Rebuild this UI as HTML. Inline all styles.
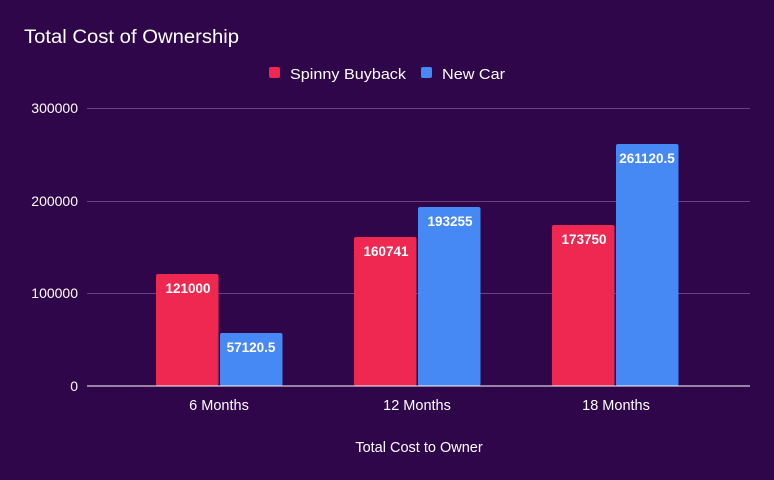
<!DOCTYPE html>
<html><head><meta charset="utf-8"><style>
html,body{margin:0;padding:0;background:#2f064a;}
svg{display:block;}
text{font-family:"Liberation Sans",Arial,sans-serif;}
</style></head><body>
<svg width="774" height="480" viewBox="0 0 774 480" xmlns="http://www.w3.org/2000/svg">
<rect width="774" height="480" fill="#2f064a"/>
<text x="24" y="43" font-size="19" fill="#ffffff" textLength="215" lengthAdjust="spacingAndGlyphs">Total Cost of Ownership</text>
<rect x="269" y="67" width="11" height="11" rx="2" fill="#ee2850"/>
<text x="290" y="79" font-size="15" fill="#ffffff" textLength="116" lengthAdjust="spacingAndGlyphs">Spinny Buyback</text>
<rect x="421" y="67" width="11" height="11" rx="2" fill="#4688f4"/>
<text x="442" y="79" font-size="15" fill="#ffffff" textLength="63" lengthAdjust="spacingAndGlyphs">New Car</text>
<g stroke="#6b3f86" stroke-width="1">
<line x1="87" y1="108.5" x2="750" y2="108.5"/>
<line x1="87" y1="201.5" x2="750" y2="201.5"/>
<line x1="87" y1="293.5" x2="750" y2="293.5"/>
</g>
<g font-size="14" fill="#ffffff" text-anchor="end">
<text x="78" y="113">300000</text>
<text x="78" y="206">200000</text>
<text x="78" y="298">100000</text>
<text x="78" y="391">0</text>
</g>
<g>
<rect x="156" y="274" width="62.5" height="112" rx="2" fill="#ee2850"/>
<rect x="220" y="333" width="62.5" height="53" rx="2" fill="#4688f4"/>
<rect x="354" y="237" width="62.5" height="149" rx="2" fill="#ee2850"/>
<rect x="418" y="207" width="62.5" height="179" rx="2" fill="#4688f4"/>
<rect x="552" y="225" width="62.5" height="161" rx="2" fill="#ee2850"/>
<rect x="616" y="144" width="62.5" height="242" rx="2" fill="#4688f4"/>
</g>
<g font-size="13.5" font-weight="bold" fill="#ffffff" text-anchor="middle">
<text x="188" y="293">121000</text>
<text x="251" y="352">57120.5</text>
<text x="386" y="256">160741</text>
<text x="450" y="226">193255</text>
<text x="584" y="244">173750</text>
<text x="647" y="163">261120.5</text>
</g>
<line x1="87" y1="386" x2="750" y2="386" stroke="#ffffff" stroke-width="1"/>
<g font-size="14.5" fill="#ffffff" text-anchor="middle">
<text x="219" y="410">6 Months</text>
<text x="417" y="410">12 Months</text>
<text x="616" y="410">18 Months</text>
<text x="419" y="452">Total Cost to Owner</text>
</g>
</svg>
</body></html>
